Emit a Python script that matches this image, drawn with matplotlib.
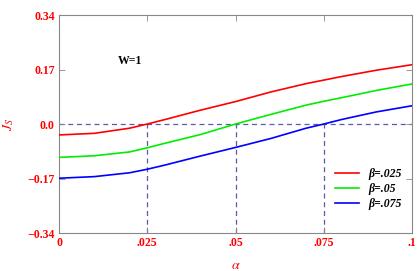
import matplotlib
matplotlib.use("Agg")
import matplotlib.pyplot as plt
from matplotlib.lines import Line2D

alpha = [0.0, 0.01, 0.02, 0.025, 0.03, 0.04, 0.05, 0.06, 0.07, 0.075, 0.08, 0.09, 0.1]
js_b025 = [-0.034, -0.029, -0.013, 0.0, 0.014, 0.043, 0.070, 0.100, 0.126, 0.137, 0.148, 0.168, 0.185]
js_b05 = [-0.104, -0.099, -0.087, -0.074, -0.060, -0.033, 0.0, 0.030, 0.059, 0.071, 0.082, 0.105, 0.125]
js_b075 = [-0.169, -0.164, -0.152, -0.141, -0.128, -0.100, -0.073, -0.045, -0.013, 0.0, 0.014, 0.038, 0.057]
labels = ["β=.025", "β=.05", "β=.075"]
colors = ["#ff0000", "#00ee00", "#0000ff"]
crossings = [0.025, 0.05, 0.075]
xticks = [0, 0.025, 0.05, 0.075, 0.1]
xticklabels = ["0", ".025", ".05", ".075", ".1"]
yticks = [-0.34, -0.17, 0.0, 0.17, 0.34]
yticklabels = ["\u22120.34", "\u22120.17", "0.0", "0.17", "0.34"]

plt.rcParams['font.family'] = ['Liberation Serif', 'DejaVu Serif']
plt.rcParams['mathtext.fontset'] = 'stix'

fig = plt.figure(figsize=(4.17, 2.71), dpi=100)
ax = fig.add_axes([0.1415, 0.140, 0.8465, 0.8046])

dash_col = "#5a5aa8"
ax.axhline(0, color=dash_col, lw=0.9, ls=(0, (4, 3)), zorder=1)
for c in crossings:
    ax.plot([c, c], [-0.34, 0], color=dash_col, lw=0.9, ls=(0, (4, 3)), zorder=1)

for ys, col in zip([js_b025, js_b05, js_b075], colors):
    ax.plot(alpha, ys, color=col, lw=1.2, zorder=3)

ax.set_xlim(0, 0.1)
ax.set_ylim(-0.34, 0.34)
ax.set_xticks(xticks)
ax.set_xticklabels(xticklabels)
ax.set_yticks(yticks)
ax.set_yticklabels(yticklabels)
ax.tick_params(direction='in', top=True, right=True, length=4, width=0.6,
               color='#888888', labelcolor='red', labelsize=8.5, pad=3)
for lab in ax.get_xticklabels() + ax.get_yticklabels():
    lab.set_fontweight('bold')
for sp in ax.spines.values():
    sp.set_color('#888888')
    sp.set_linewidth(0.8)

ax.set_xlabel(r"$\alpha$", color='red', fontsize=10, labelpad=7)
ax.set_ylabel(r"$J_S$", color='red', fontsize=10, labelpad=8)

ax.text(0.0201, 0.197, "W=1", fontsize=8.5, fontweight='bold', ha='center', va='center')

handles = [Line2D([], [], color=c, lw=1.2) for c in colors]
leg = ax.legend(handles, labels,
                loc='lower right', bbox_to_anchor=(1.0, 0.057), frameon=False,
                handlelength=2.0, handletextpad=0.8, labelspacing=0.25,
                prop={'weight': 'bold', 'style': 'italic', 'size': 8.5})
fig.savefig("out.png", dpi=100)
